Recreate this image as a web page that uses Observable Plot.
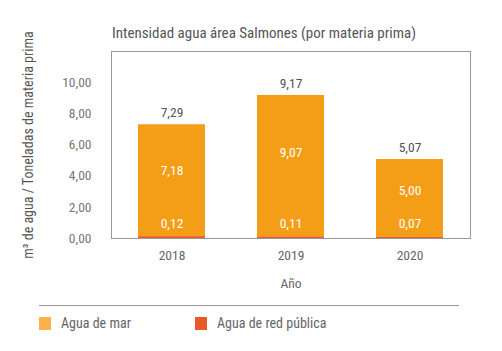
<!DOCTYPE html>
<html>
<head>
<meta charset="utf-8">
<script src="https://cdn.jsdelivr.net/npm/d3@7"></script>
<script src="https://cdn.jsdelivr.net/npm/@observablehq/plot@0.6"></script>
<style>
  html, body { margin: 0; padding: 0; background: #fff; }
  body { width: 502px; height: 351px; position: relative; overflow: hidden;
         font-family: 'Roboto Condensed','DejaVu Sans Condensed','Liberation Sans Narrow',Roboto,sans-serif; font-stretch: condensed; }
  #title { position: absolute; left: 112px; top: 24px; font-size: 15px; color: #555; white-space: nowrap; z-index: 2; }
  #chart { position: absolute; left: 0; top: 0; }
  #legend { position: absolute; left: 39px; top: 305px; width: 420px; border-top: 1px solid #999;
            padding-top: 9px; font-size: 14px; color: #666; display: flex; }
  .item { display: flex; align-items: center; }
  .sw { width: 12px; height: 13px; margin-right: 10px; }
</style>
</head>
<body>
<div id="chart"></div>
<div id="title">Intensidad agua área Salmones (por materia prima)</div>
<div id="legend">
  <div class="item" style="width:156px"><div class="sw" style="background:#FBB24B"></div>Agua de mar</div>
  <div class="item"><div class="sw" style="background:#EA5A26"></div>Agua de red pública</div>
</div>
<script>
const years = ["2018", "2019", "2020"];
const aguaMar = [7.18, 9.07, 5.00];
const aguaRed = [0.12, 0.11, 0.07];
const totales = [7.29, 9.17, 5.07];
const yTicks = [0, 2, 4, 6, 8, 10];
const series = ["Agua de mar", "Agua de red pública"];
const yLabel = "m³ de agua / Toneladas de materia prima";

const fmt = v => d3.format(".2f")(v).replace(".", ",");

const rows = [];
years.forEach((y, i) => rows.push({year: y, serie: series[1], value: aguaRed[i]}));
years.forEach((y, i) => rows.push({year: y, serie: series[0], value: aguaMar[i]}));
const tot = years.map((y, i) => ({year: y, total: totales[i], mar: aguaMar[i], red: aguaRed[i]}));

const chart = Plot.plot({
  width: 502,
  height: 294,
  marginTop: 51,
  marginBottom: 56,
  marginLeft: 111,
  marginRight: 32,
  style: {fontFamily: "'Roboto Condensed','DejaVu Sans Condensed','Liberation Sans Narrow',Roboto,sans-serif", fontSize: "13.5px", color: "#666", fontStretch: "condensed", overflow: "visible"},
  x: {domain: years, paddingInner: 0.44, paddingOuter: 0.22, label: "Año", labelAnchor: "center", labelOffset: 49, tickSize: 0, tickPadding: 12},
  y: {domain: [0, 12], axis: null},
  color: {domain: series, range: ["#F49D17", "#EA5A26"]},
  marks: [
    Plot.frame({stroke: "#999"}),
    Plot.barY(rows, {x: "year", y: "value", fill: "serie"}),
    Plot.axisY({ticks: yTicks, tickFormat: fmt, tickSize: 0, tickPadding: 20, fill: "#777", label: null}),
    Plot.text([yLabel], {frameAnchor: "left", rotate: -90, dx: -83, text: d => d, fill: "#555", fontSize: 14, textAnchor: "middle"}),
    Plot.text(tot, {x: "year", y: "total", text: d => fmt(d.total), dy: -12, fill: "#555", fontSize: 13.5}),
    Plot.text(tot, {x: "year", y: d => d.total * 0.6, text: d => fmt(d.mar), fill: "white", fontSize: 13.5}),
    Plot.text(tot, {x: "year", y: 0, dy: -15, text: d => fmt(d.red), fill: "white", fontSize: 13.5})
  ]
});
document.getElementById("chart").appendChild(chart);
</script>
</body>
</html>
